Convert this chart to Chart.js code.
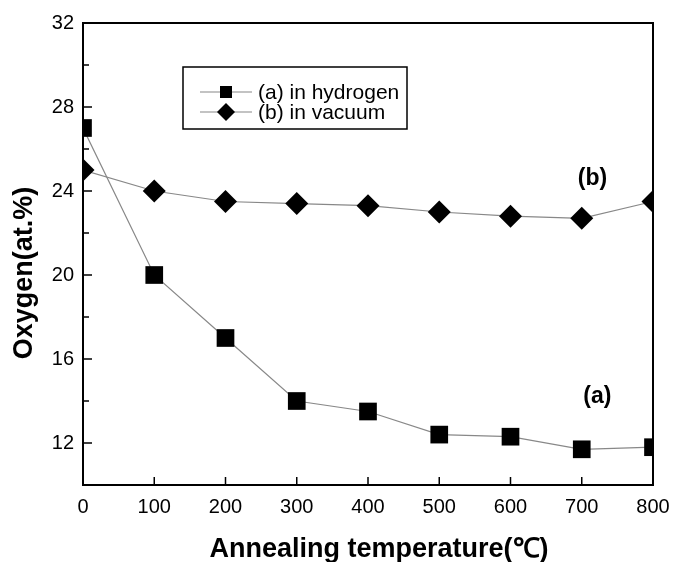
<!DOCTYPE html>
<html lang="en">
<head>
  <meta charset="UTF-8" />
  <title>Oxygen vs annealing temperature</title>
  <script src="https://cdn.jsdelivr.net/npm/chart.js"></script>
  <style>
    html, body { margin: 0; padding: 0; background: #fff; }
    #wrap { width: 687px; height: 562px; }
  </style>
</head>
<body>
  <div id="wrap"><canvas id="myChart" width="687" height="562"></canvas></div>

  <script>
    // data
    const temps = [0, 100, 200, 300, 400, 500, 600, 700, 800];
    const hydrogen = [27.0, 20.0, 17.0, 14.0, 13.5, 12.4, 12.3, 11.7, 11.8];
    const vacuum = [25.0, 24.0, 23.5, 23.4, 23.3, 23.0, 22.8, 22.7, 23.5];
    const xTicks = [0, 100, 200, 300, 400, 500, 600, 700, 800];
    const yTicks = [12, 16, 20, 24, 28, 32];
    const yMinor = [14, 18, 22, 26, 30];
    const seriesNames = ['(a) in hydrogen', '(b) in vacuum'];

    const font = '"Liberation Sans", Arial, sans-serif';

    // frame, inward ticks, axis titles, legend box and (a)/(b) labels
    const decor = {
      id: 'decor',
      afterDatasetsDraw(chart) {
        const { ctx, chartArea: a, scales: { x, y } } = chart;
        ctx.save();
        ctx.strokeStyle = '#000';
        ctx.lineWidth = 2;
        ctx.strokeRect(a.left, a.top, a.right - a.left, a.bottom - a.top);

        ctx.lineWidth = 1.5;
        ctx.beginPath();
        yTicks.forEach(v => {
          const py = y.getPixelForValue(v);
          ctx.moveTo(a.left, py); ctx.lineTo(a.left + 9, py);
        });
        yMinor.forEach(v => {
          const py = y.getPixelForValue(v);
          ctx.moveTo(a.left, py); ctx.lineTo(a.left + 6, py);
        });
        xTicks.forEach(v => {
          const px = x.getPixelForValue(v);
          ctx.moveTo(px, a.bottom); ctx.lineTo(px, a.bottom - 8);
        });
        ctx.stroke();

        // axis titles
        ctx.fillStyle = '#000';
        ctx.font = 'bold 27px ' + font;
        ctx.textAlign = 'center';
        ctx.textBaseline = 'middle';
        ctx.fillText('Annealing temperature(\u2103)', 379, 550);
        ctx.save();
        ctx.translate(25, 273);
        ctx.rotate(-Math.PI / 2);
        ctx.fillText('Oxygen(at.%)', 0, 0);
        ctx.restore();

        // curve labels
        ctx.font = 'bold 23px ' + font;
        ctx.fillText('(b)', x.getPixelForValue(715), y.getPixelForValue(24.6));
        ctx.fillText('(a)', x.getPixelForValue(722), y.getPixelForValue(14.2));

        // legend
        ctx.lineWidth = 1.5;
        ctx.strokeRect(183, 67, 224, 62);
        const rows = [92, 112];
        ctx.font = '21px ' + font;
        ctx.textAlign = 'left';
        rows.forEach((ry, i) => {
          ctx.strokeStyle = '#888';
          ctx.lineWidth = 1.2;
          ctx.beginPath();
          ctx.moveTo(200, ry); ctx.lineTo(252, ry);
          ctx.stroke();
          ctx.fillStyle = '#000';
          ctx.beginPath();
          if (i === 0) {
            ctx.rect(220, ry - 6, 12, 12);
          } else {
            ctx.moveTo(226, ry - 9); ctx.lineTo(235, ry);
            ctx.lineTo(226, ry + 9); ctx.lineTo(217, ry);
            ctx.closePath();
          }
          ctx.fill();
          ctx.fillText(seriesNames[i], 258, ry + 1);
        });
        ctx.restore();
      }
    };

    const ctx = document.getElementById('myChart').getContext('2d');
    const chart = new Chart(ctx, {
      type: 'line',
      data: {
        datasets: [{
          label: seriesNames[0],
          data: temps.map((t, i) => ({ x: t, y: hydrogen[i] })),
          borderColor: '#888',
          borderWidth: 1.2,
          pointStyle: 'rect',
          pointRadius: 12.5,
          pointBackgroundColor: '#000',
          pointBorderColor: '#000',
          pointBorderWidth: 0,
          tension: 0
        }, {
          label: seriesNames[1],
          data: temps.map((t, i) => ({ x: t, y: vacuum[i] })),
          borderColor: '#888',
          borderWidth: 1.2,
          pointStyle: 'rectRot',
          pointRadius: 11.5,
          pointBackgroundColor: '#000',
          pointBorderColor: '#000',
          pointBorderWidth: 0,
          tension: 0
        }]
      },
      options: {
        animation: false,
        responsive: false,
        layout: { padding: { top: 23, right: 34, left: 0, bottom: 0 } },
        plugins: { legend: { display: false }, tooltip: { enabled: false } },
        scales: {
          x: {
            type: 'linear',
            min: 0,
            max: 800,
            afterBuildTicks: s => { s.ticks = xTicks.map(v => ({ value: v })); },
            afterFit: s => { s.height = 77; },
            grid: { display: false, drawTicks: false },
            border: { display: false },
            ticks: { color: '#000', font: { family: font, size: 20 }, padding: 10, maxRotation: 0 }
          },
          y: {
            min: 10,
            max: 32,
            afterBuildTicks: s => { s.ticks = yTicks.map(v => ({ value: v })); },
            afterFit: s => { s.width = 83; },
            grid: { display: false, drawTicks: false },
            border: { display: false },
            ticks: { color: '#000', font: { family: font, size: 20 }, padding: 9 }
          }
        }
      },
      plugins: [decor]
    });
  </script>
</body>
</html>
